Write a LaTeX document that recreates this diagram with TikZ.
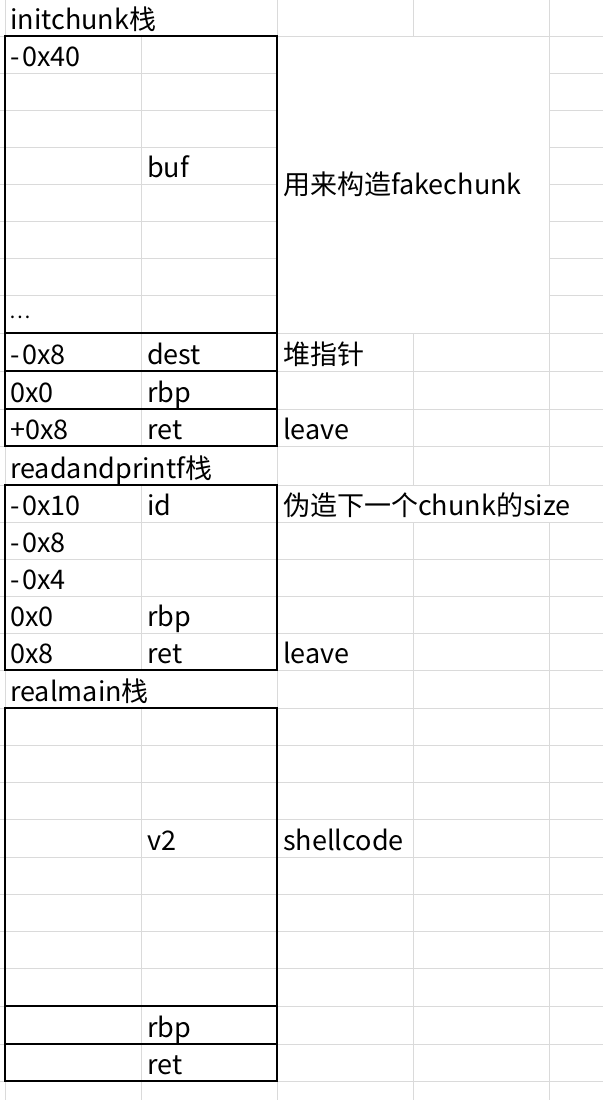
\documentclass[tikz,border=0pt]{standalone}
\usepackage{fontspec}
\setmainfont{Noto Sans CJK SC}
\definecolor{gridgray}{RGB}{218,218,218}
\newcommand{\mn}{-\kern3pt}
\begin{document}
\begin{tikzpicture}[x=1pt,y=-1pt,
  txt/.style={anchor=base west,inner sep=0pt,font=\fontsize{27}{30}\selectfont},
  gridline/.style={draw=gridgray,line width=1pt},
  stackbox/.style={draw=black,line width=2pt}]
\useasboundingbox (0,0) rectangle (603,1100);
\fill[white] (0,0) rectangle (603,1100);
% horizontal grid lines
\foreach \y in {36,333,371,409,446,485,522,559,596,633,670,708,745,782,819,857,894,931,968,1006,1044,1081}
  \draw[gridline] (0,\y) -- (603,\y);
\foreach \y in {73,110,147,184,221,258,295}{
  \draw[gridline] (0,\y) -- (277,\y);
  \draw[gridline] (549,\y) -- (603,\y);
}
% vertical grid lines
\draw[gridline] (5,0) -- (5,1100);
\draw[gridline] (141,36) -- (141,446);
\draw[gridline] (141,485) -- (141,670);
\draw[gridline] (141,708) -- (141,1100);
\draw[gridline] (277,0) -- (277,1100);
\draw[gridline] (413,0) -- (413,36);
\draw[gridline] (413,333) -- (413,485);
\draw[gridline] (413,522) -- (413,1100);
\draw[gridline] (549,0) -- (549,485);
\draw[gridline] (549,522) -- (549,1100);
% black stack boxes
\draw[stackbox] (5,36) rectangle (277,333);
\draw[stackbox] (5,333) rectangle (277,371);
\draw[stackbox] (5,371) rectangle (277,409);
\draw[stackbox] (5,409) rectangle (277,446);
\draw[stackbox] (5,485) rectangle (277,670);
\draw[stackbox] (5,708) rectangle (277,1006);
\draw[stackbox] (5,1006) rectangle (277,1044);
\draw[stackbox] (5,1044) rectangle (277,1081);
% initchunk
\node[txt] (t0) at (10,29) {initchunk栈};
\node[txt] (a1) at (10,66) {\mn 0x40};
\node[txt] (b4) at (147,177) {buf};
\node[txt] (c1) at (283,194) {用来构造fakechunk};
\node[txt,font=\fontsize{20}{24}\selectfont] (a8) at (9,318) {…};
\node[txt] (a9) at (10,364) {\mn 0x8};
\node[txt] (b9) at (147,364) {dest};
\node[txt] (c9) at (283,364) {堆指针};
\node[txt] (a10) at (10,402) {0x0};
\node[txt] (b10) at (147,402) {rbp};
\node[txt] (a11) at (10,439) {+0x8};
\node[txt] (b11) at (147,439) {ret};
\node[txt] (c11) at (283,439) {leave};
% readandprintf
\node[txt] (t12) at (10,478) {readandprintf栈};
\node[txt] (a13) at (10,515) {\mn 0x10};
\node[txt] (b13) at (147,515) {id};
\node[txt] (c13) at (283,515) {伪造下一个chunk的size};
\node[txt] (a14) at (10,552) {\mn 0x8};
\node[txt] (a15) at (10,589) {\mn 0x4};
\node[txt] (a16) at (10,626) {0x0};
\node[txt] (b16) at (147,626) {rbp};
\node[txt] (a17) at (10,663) {0x8};
\node[txt] (b17) at (147,663) {ret};
\node[txt] (c17) at (283,663) {leave};
% realmain
\node[txt] (t18) at (10,701) {realmain栈};
\node[txt] (b22) at (147,850) {v2};
\node[txt] (c22) at (283,850) {shellcode};
\node[txt] (b27) at (147,1037) {rbp};
\node[txt] (b28) at (147,1074) {ret};
\end{tikzpicture}
\end{document}
